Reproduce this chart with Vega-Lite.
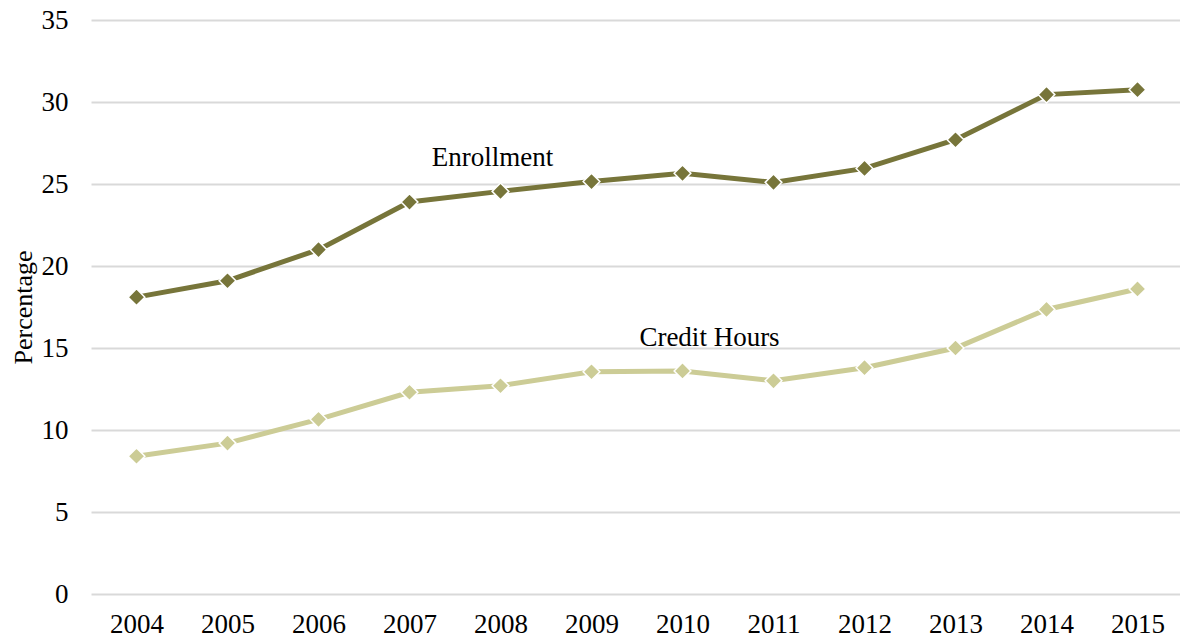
{
  "$schema": "https://vega.github.io/schema/vega-lite/v6.json",
  "width": 1092,
  "height": 574,
  "autosize": {"type": "none"},
  "padding": {"left": 91, "top": 20, "right": 0, "bottom": 46},
  "background": "white",
  "config": {
    "font": "Liberation Serif",
    "view": {"stroke": null}
  },
  "datasets": {
    "series": [
      {"year": "2004", "series": "Enrollment", "value": 18.1},
      {"year": "2005", "series": "Enrollment", "value": 19.1},
      {"year": "2006", "series": "Enrollment", "value": 21.0},
      {"year": "2007", "series": "Enrollment", "value": 23.9},
      {"year": "2008", "series": "Enrollment", "value": 24.55},
      {"year": "2009", "series": "Enrollment", "value": 25.15},
      {"year": "2010", "series": "Enrollment", "value": 25.65},
      {"year": "2011", "series": "Enrollment", "value": 25.1},
      {"year": "2012", "series": "Enrollment", "value": 25.95},
      {"year": "2013", "series": "Enrollment", "value": 27.7},
      {"year": "2014", "series": "Enrollment", "value": 30.45},
      {"year": "2015", "series": "Enrollment", "value": 30.75},
      {"year": "2004", "series": "Credit Hours", "value": 8.4},
      {"year": "2005", "series": "Credit Hours", "value": 9.2},
      {"year": "2006", "series": "Credit Hours", "value": 10.65},
      {"year": "2007", "series": "Credit Hours", "value": 12.3},
      {"year": "2008", "series": "Credit Hours", "value": 12.7},
      {"year": "2009", "series": "Credit Hours", "value": 13.55},
      {"year": "2010", "series": "Credit Hours", "value": 13.6},
      {"year": "2011", "series": "Credit Hours", "value": 13.0},
      {"year": "2012", "series": "Credit Hours", "value": 13.8},
      {"year": "2013", "series": "Credit Hours", "value": 15.0},
      {"year": "2014", "series": "Credit Hours", "value": 17.35},
      {"year": "2015", "series": "Credit Hours", "value": 18.6}
    ],
    "labels": [
      {"year": "2008", "label": "Enrollment", "value": 26.6, "offset": -8},
      {"year": "2010", "label": "Credit Hours", "value": 15.6, "offset": 27}
    ]
  },
  "encoding": {
    "x": {
      "field": "year",
      "type": "ordinal",
      "scale": {"type": "point", "padding": 0.5},
      "axis": {
        "title": null,
        "labelAngle": 0,
        "labelFontSize": 27,
        "labelColor": "#000000",
        "labelPadding": 17,
        "ticks": false,
        "domain": false,
        "grid": false
      }
    },
    "y": {
      "field": "value",
      "type": "quantitative",
      "scale": {"domain": [0, 35], "nice": false},
      "axis": {
        "title": "Percentage",
        "titleFontSize": 26,
        "titleFontWeight": "normal",
        "titleColor": "#000000",
        "titlePadding": 5,
        "values": [0, 5, 10, 15, 20, 25, 30, 35],
        "labelFontSize": 27,
        "labelColor": "#000000",
        "labelPadding": 23,
        "ticks": false,
        "domain": false,
        "grid": true,
        "gridColor": "#d9d9d9",
        "gridWidth": 2
      }
    }
  },
  "layer": [
    {
      "data": {"name": "series"},
      "mark": {"type": "line", "strokeWidth": 5},
      "encoding": {
        "color": {
          "field": "series",
          "type": "nominal",
          "scale": {"domain": ["Enrollment", "Credit Hours"], "range": ["#77753a", "#cccc96"]},
          "legend": null
        }
      }
    },
    {
      "data": {"name": "series"},
      "mark": {"type": "point", "shape": "diamond", "filled": true, "size": 280, "stroke": "white", "strokeWidth": 1.5, "opacity": 1},
      "encoding": {
        "fill": {
          "field": "series",
          "type": "nominal",
          "scale": {"domain": ["Enrollment", "Credit Hours"], "range": ["#77753a", "#cccc96"]},
          "legend": null
        }
      }
    },
    {
      "data": {"name": "labels"},
      "mark": {"type": "text", "fontSize": 27, "color": "#000000", "align": "center", "baseline": "middle"},
      "encoding": {
        "text": {"field": "label", "type": "nominal"},
        "xOffset": {"field": "offset", "type": "quantitative", "scale": null}
      }
    }
  ]
}
